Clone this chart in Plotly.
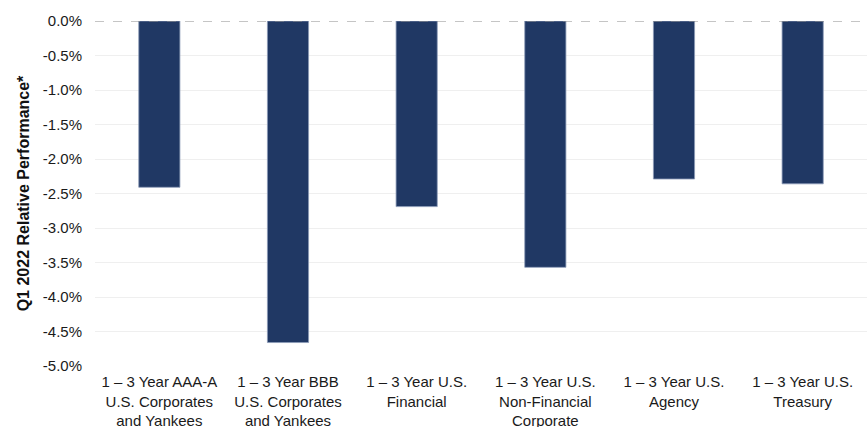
import plotly.graph_objects as go

categories = [
    "1 – 3 Year AAA-A<br>U.S. Corporates<br>and Yankees",
    "1 – 3 Year BBB<br>U.S. Corporates<br>and Yankees",
    "1 – 3 Year U.S.<br>Financial",
    "1 – 3 Year U.S.<br>Non-Financial<br>Corporate",
    "1 – 3 Year U.S.<br>Agency",
    "1 – 3 Year U.S.<br>Treasury",
]
values = [-2.41, -4.66, -2.69, -3.57, -2.29, -2.36]
tick_vals = [0.0, -0.5, -1.0, -1.5, -2.0, -2.5, -3.0, -3.5, -4.0, -4.5, -5.0]
tick_text = [f"{v:.1f}%" for v in tick_vals]

fig = go.Figure(go.Bar(
    x=categories, y=values,
    marker=dict(color="#203864", line=dict(color="#8c9bb8", width=0.8)),
    width=0.32,
))

fig.add_shape(type="line", xref="paper", yref="y", x0=0, x1=1, y0=0, y1=0,
              line=dict(color="#8c8c8c", width=1, dash="dash"))

fig.update_layout(
    width=867, height=427,
    margin=dict(l=95, r=0, t=21, b=61),
    plot_bgcolor="white", paper_bgcolor="white",
    font=dict(family="Arial, Liberation Sans, sans-serif", size=15, color="#1a1a1a"),
    showlegend=False,
    xaxis=dict(showgrid=False, showline=False, ticks="", tickfont=dict(size=15),
               ticklabelstandoff=5, automargin=False),
    yaxis=dict(
        range=[-5.0, 0.0], tickvals=tick_vals, ticktext=tick_text,
        showgrid=True, gridcolor="#efefef", gridwidth=1, zeroline=False,
        showline=False, ticks="", ticklabelstandoff=12, automargin=False,
        tickfont=dict(size=15),
        title=dict(text="<b>Q1 2022 Relative Performance*</b>", font=dict(size=16, color="#111111"), standoff=9),
    ),
)

fig.write_html("out.html")
